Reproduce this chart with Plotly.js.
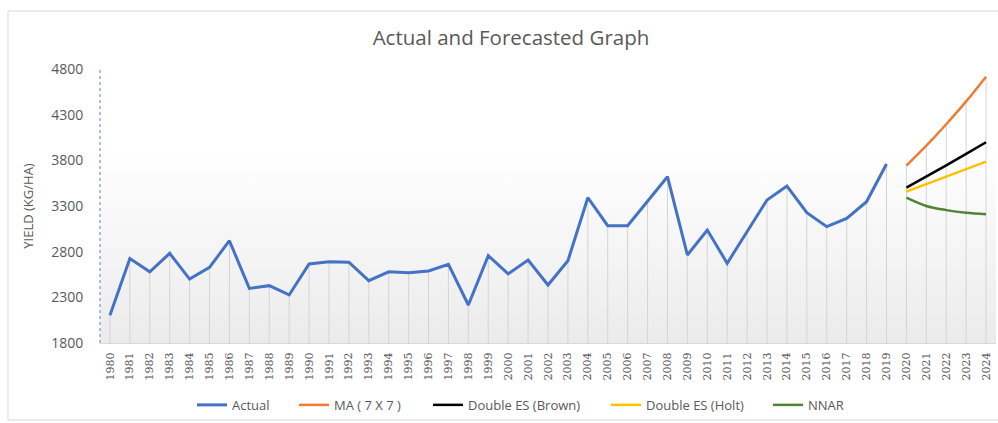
<!DOCTYPE html>
<html>
<head>
<meta charset="utf-8">
<script src="https://cdn.plot.ly/plotly-3.0.1.min.js"></script>
<style>html,body{margin:0;padding:0;background:#fff;}#chart{width:998px;height:423px;}</style>
</head>
<body>
<div id="chart"></div>
<script>
var years = ["1980","1981","1982","1983","1984","1985","1986","1987","1988","1989","1990","1991","1992","1993","1994","1995","1996","1997","1998","1999","2000","2001","2002","2003","2004","2005","2006","2007","2008","2009","2010","2011","2012","2013","2014","2015","2016","2017","2018","2019","2020","2021","2022","2023","2024"];
var actualYears = years.slice(0, 40);
var forecastYears = ["2020","2021","2022","2023","2024"];
var actual = [2105,2725,2580,2782,2500,2628,2920,2398,2428,2326,2665,2690,2684,2482,2580,2570,2588,2662,2216,2756,2556,2709,2435,2701,3391,3084,3084,3347,3621,2764,3037,2673,3025,3366,3519,3227,3074,3165,3347,3760];
var maForecast = [3741,3960,4195,4445,4716];
var brownForecast = [3501,3620,3745,3870,3998];
var holtForecast = [3457,3540,3622,3705,3785];
var nnarForecast = [3391,3300,3255,3225,3209];

// drop lines from axis floor to the highest series value in each category
var dropX = [], dropY = [];
years.forEach(function(y, i){
  var vals = [];
  if (i < actual.length) vals.push(actual[i]);
  var j = forecastYears.indexOf(y);
  if (j >= 0) vals.push(maForecast[j], brownForecast[j], holtForecast[j], nnarForecast[j]);
  var m = Math.max.apply(null, vals);
  dropX.push(y, y, null); dropY.push(1800, m, null);
});

var grad = 'data:image/svg+xml;utf8,' + encodeURIComponent(
 '<svg xmlns="http://www.w3.org/2000/svg" width="100" height="100" preserveAspectRatio="none"><defs><linearGradient id="g" x1="0" y1="0" x2="0" y2="1"><stop offset="0" stop-color="#ffffff"/><stop offset="0.3" stop-color="#ffffff"/><stop offset="1" stop-color="#ebebeb"/></linearGradient></defs><rect width="100" height="100" fill="url(#g)"/></svg>');

var traces = [
  {x: dropX, y: dropY, mode: 'lines', line: {color: '#d4d4d4', width: 1}, showlegend: false, hoverinfo: 'skip'},
  {x: actualYears, y: actual, name: 'Actual', mode: 'lines', line: {color: '#4472C4', width: 3}, legend: 'legend'},
  {x: forecastYears, y: maForecast, name: 'MA ( 7 X 7 )', mode: 'lines', line: {color: '#ED7D31', width: 2.5, shape: 'spline'}, legend: 'legend2'},
  {x: forecastYears, y: brownForecast, name: 'Double ES (Brown)', mode: 'lines', line: {color: '#000000', width: 2.5}, legend: 'legend3'},
  {x: forecastYears, y: holtForecast, name: 'Double ES (Holt)', mode: 'lines', line: {color: '#FFC000', width: 2.5}, legend: 'legend4'},
  {x: forecastYears, y: nnarForecast, name: 'NNAR', mode: 'lines', line: {color: '#548235', width: 2.5, shape: 'spline'}, legend: 'legend5'}
];

var legFont = {family: 'Open Sans, sans-serif', size: 13, color: '#595959'};
function leg(px) {
  return {orientation: 'h', x: (px - 100) / 896, xanchor: 'left', y: -0.226, yanchor: 'middle', font: legFont, bgcolor: 'rgba(0,0,0,0)'};
}

var layout = {
  width: 998, height: 423,
  margin: {l: 100, r: 2, t: 69, b: 80},
  paper_bgcolor: '#ffffff',
  plot_bgcolor: 'rgba(0,0,0,0)',
  title: {text: 'Actual and Forecasted Graph', font: {family: 'Open Sans, sans-serif', size: 20.5, color: '#595959'}, x: 0.512, xanchor: 'center', y: 0.91, yanchor: 'middle'},
  xaxis: {
    type: 'category', categoryorder: 'array', categoryarray: years,
    range: [-0.5, 44.5], showgrid: false, zeroline: false,
    showline: true, linecolor: '#d9d9d9', linewidth: 1,
    tickangle: -90, tickfont: {family: 'DejaVu Serif, serif', size: 11, color: '#595959'},
    ticks: 'outside', ticklen: 4, tickcolor: 'rgba(0,0,0,0)'
  },
  yaxis: {
    range: [1800, 4800], tickvals: [1800,2300,2800,3300,3800,4300,4800],
    showgrid: false, zeroline: false, showline: false,
    tickfont: {family: 'Open Sans, sans-serif', size: 14, color: '#595959'},
    ticks: 'outside', ticklen: 13, tickcolor: 'rgba(0,0,0,0)',
    title: {text: 'YIELD (KG/HA)', font: {family: 'Open Sans, sans-serif', size: 13, color: '#595959'}, standoff: 14}
  },
  legend: leg(192),
  legend2: leg(294),
  legend3: leg(428),
  legend4: leg(606),
  legend5: leg(768),
  images: [{source: grad, xref: 'paper', yref: 'paper', x: 0, y: 1, sizex: 1, sizey: 1, sizing: 'stretch', layer: 'below', xanchor: 'left', yanchor: 'top'}],
  shapes: [
    {type: 'rect', xref: 'paper', yref: 'paper', x0: -0.1027, x1: 1.003, y0: -0.281, y1: 1.2117, line: {color: '#d9d9d9', width: 1}, fillcolor: 'rgba(0,0,0,0)', layer: 'below'},
    {type: 'line', xref: 'paper', yref: 'paper', x0: 0, x1: 0, y0: 0, y1: 1, line: {color: '#8ea9db', width: 1.5, dash: 'dot'}}
  ]
};

Plotly.newPlot('chart', traces, layout, {displayModeBar: false, staticPlot: true});
</script>
</body>
</html>
